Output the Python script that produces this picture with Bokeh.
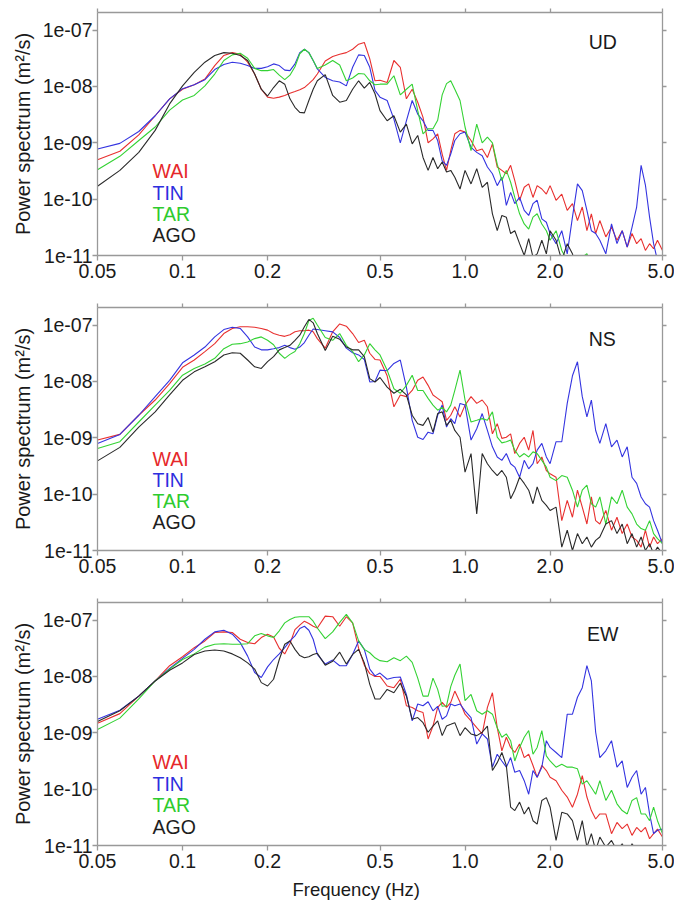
import numpy as np
from bokeh.plotting import figure
from bokeh.models import LogAxis, FixedTicker, CustomJSTickFormatter, Range1d, Label, Title
from bokeh.layouts import column
from bokeh.embed import file_html
from bokeh.resources import INLINE

# Frequency grid (Hz) shared by all spectra
FREQ = [
    0.05, 0.06, 0.07, 0.08, 0.09, 0.10, 0.11, 0.12, 0.13, 0.14,
    0.15, 0.16, 0.17, 0.18, 0.19, 0.20, 0.21, 0.22, 0.23, 0.24,
    0.25, 0.26, 0.27, 0.28, 0.29, 0.30, 0.32, 0.34, 0.36, 0.38,
    0.40, 0.42, 0.44, 0.46, 0.48, 0.50, 0.53, 0.56, 0.59, 0.62,
    0.65, 0.68, 0.71, 0.74, 0.77, 0.80, 0.83, 0.86, 0.89, 0.92,
    0.96, 1.00, 1.05, 1.10, 1.15, 1.20, 1.25, 1.30, 1.35, 1.40,
    1.45, 1.50, 1.56, 1.62, 1.68, 1.74, 1.80, 1.87, 1.94, 2.00,
    2.10, 2.20, 2.30, 2.40, 2.50, 2.60, 2.70, 2.80, 2.90, 3.00,
    3.15, 3.30, 3.45, 3.60, 3.75, 3.90, 4.05, 4.20, 4.35, 4.50,
    4.65, 4.80, 5.00]

# log10 of power spectrum (m^2/s)
UD_WAI = [
    -9.30, -9.15, -8.86, -8.52, -8.22, -8.05, -7.97, -7.87, -7.63, -7.45,
    -7.40, -7.43, -7.57, -7.78, -8.05, -8.19, -8.21, -8.19, -8.16, -8.12,
    -8.09, -8.06, -8.02, -7.95, -7.88, -7.78, -7.55, -7.47, -7.43, -7.40,
    -7.34, -7.25, -7.22, -7.51, -7.90, -7.89, -7.93, -7.54, -7.66, -8.22,
    -8.05, -8.28, -8.55, -9.00, -8.93, -8.84, -9.20, -9.49, -9.14, -8.84,
    -8.78, -8.81, -8.96, -9.14, -9.11, -9.26, -9.02, -9.43, -9.49, -9.55,
    -9.40, -9.67, -10.02, -9.79, -9.73, -9.97, -9.76, -9.82, -9.91, -9.76,
    -10.02, -9.91, -10.20, -10.08, -10.38, -10.14, -10.56, -10.26, -10.61, -10.38,
    -10.67, -10.50, -10.73, -10.56, -10.85, -10.61, -10.79, -10.70, -10.91, -10.79,
    -10.88, -10.73, -10.91]
UD_TIN = [
    -9.11, -9.01, -8.80, -8.52, -8.22, -8.04, -7.97, -7.88, -7.70, -7.61,
    -7.57, -7.59, -7.63, -7.68, -7.68, -7.65, -7.60, -7.63, -7.71, -7.72,
    -7.60, -7.40, -7.34, -7.40, -7.54, -7.69, -7.84, -7.90, -7.92, -7.99,
    -7.66, -7.44, -7.45, -7.66, -8.07, -8.19, -8.25, -8.58, -9.00, -8.61,
    -8.25, -8.49, -8.61, -8.78, -8.78, -8.96, -9.32, -9.40, -9.20, -8.96,
    -8.84, -8.81, -9.08, -9.17, -9.23, -9.43, -9.55, -9.76, -9.61, -10.11,
    -9.88, -10.08, -9.97, -10.20, -10.29, -10.08, -10.02, -10.35, -10.41, -10.61,
    -10.79, -10.56, -10.97, -10.32, -9.73, -9.85, -10.20, -10.56, -10.61, -10.73,
    -10.97, -10.44, -10.79, -10.56, -10.85, -10.50, -10.14, -9.40, -9.75, -10.32,
    -10.79, -11.09, -11.15]
UD_TAR = [
    -9.48, -9.24, -8.96, -8.72, -8.42, -8.24, -8.16, -7.99, -7.78, -7.54,
    -7.44, -7.41, -7.50, -7.68, -7.72, -7.72, -7.70, -7.80, -7.88, -7.80,
    -7.65, -7.42, -7.34, -7.40, -7.54, -7.68, -7.62, -7.54, -7.62, -7.90,
    -7.85, -7.77, -7.78, -7.90, -7.97, -7.96, -7.96, -7.81, -8.15, -8.05,
    -7.96, -8.43, -8.84, -8.75, -8.75, -8.60, -8.15, -7.95, -7.90, -8.05,
    -8.25, -8.72, -9.14, -8.67, -9.00, -8.90, -9.00, -9.38, -9.67, -9.49,
    -9.70, -9.97, -10.26, -10.44, -10.53, -10.32, -10.26, -10.44, -10.56, -10.73,
    -10.56, -10.91, -11.09, -11.20, -11.15, -11.03, -10.97, -11.15, -11.27, -11.15,
    -11.20, -11.03, -11.15, -11.20, -11.09, -11.20, -11.15, -11.27, -11.15, -11.20,
    -11.09, -11.20, -11.15]
UD_AGO = [
    -9.77, -9.49, -9.17, -8.78, -8.31, -7.99, -7.75, -7.57, -7.45, -7.40,
    -7.41, -7.45, -7.54, -7.78, -8.05, -8.17, -8.02, -7.90, -7.96, -8.22,
    -8.37, -8.46, -8.47, -8.25, -8.05, -7.90, -7.79, -8.16, -8.28, -8.25,
    -8.05, -7.90, -8.03, -7.93, -8.13, -8.43, -8.61, -8.52, -8.81, -8.67,
    -9.02, -8.87, -9.26, -9.49, -9.26, -9.46, -9.34, -9.52, -9.49, -9.61,
    -9.82, -9.49, -9.73, -9.46, -9.79, -9.70, -10.26, -10.56, -10.29, -10.32,
    -10.61, -10.56, -10.79, -11.00, -10.70, -11.03, -10.97, -10.73, -10.97, -10.56,
    -10.73, -11.09, -10.79, -10.97, -11.27, -11.15, -11.20, -11.09, -11.27, -11.20,
    -11.30, -11.20, -11.30, -11.20, -11.30, -11.20, -11.30, -11.20, -11.30, -11.20,
    -11.30, -11.20, -11.30]

NS_WAI = [
    -9.04, -8.94, -8.60, -8.33, -8.04, -7.75, -7.62, -7.47, -7.33, -7.15,
    -7.06, -7.03, -7.03, -7.04, -7.06, -7.09, -7.15, -7.18, -7.20, -7.17,
    -7.12, -7.10, -7.10, -7.09, -7.12, -7.24, -7.41, -7.12, -6.98, -7.02,
    -7.15, -7.31, -7.27, -7.50, -7.61, -7.62, -7.90, -8.45, -8.24, -8.27,
    -8.16, -7.98, -7.92, -8.07, -8.24, -8.30, -8.36, -8.69, -8.60, -8.45,
    -8.63, -8.42, -8.27, -8.39, -8.33, -8.45, -8.93, -8.75, -9.01, -8.99,
    -8.93, -9.28, -9.10, -8.99, -9.22, -8.87, -9.46, -9.34, -9.58, -9.64,
    -9.70, -10.47, -10.11, -10.41, -9.93, -10.23, -10.53, -10.05, -10.47, -10.53,
    -10.29, -10.64, -10.41, -10.70, -10.53, -10.76, -10.82, -10.94, -10.64, -10.94,
    -10.76, -10.88, -10.79]
NS_TIN = [
    -9.10, -8.94, -8.60, -8.27, -7.98, -7.67, -7.53, -7.39, -7.21, -7.08,
    -7.04, -7.06, -7.21, -7.39, -7.44, -7.44, -7.42, -7.40, -7.36, -7.40,
    -7.43, -7.39, -7.31, -7.18, -7.07, -7.08, -7.10, -7.12, -7.22, -7.41,
    -7.49, -7.53, -7.61, -8.01, -8.00, -7.80, -7.81, -7.68, -7.62, -8.10,
    -8.69, -8.99, -9.03, -8.90, -8.93, -8.60, -8.42, -8.81, -8.66, -8.75,
    -8.39, -8.42, -9.04, -8.84, -8.57, -8.87, -9.16, -9.34, -9.40, -9.28,
    -9.46, -9.52, -9.70, -9.40, -9.55, -9.46, -9.22, -9.10, -9.34, -9.46,
    -9.07, -9.07, -8.39, -7.90, -7.65, -8.27, -8.63, -8.33, -8.87, -9.10,
    -8.75, -9.16, -9.04, -9.34, -9.16, -9.70, -9.81, -10.05, -10.17, -10.23,
    -10.47, -10.64, -10.88]
NS_TAR = [
    -9.19, -9.07, -8.72, -8.42, -8.16, -7.89, -7.77, -7.69, -7.59, -7.42,
    -7.34, -7.33, -7.30, -7.24, -7.21, -7.27, -7.35, -7.50, -7.59, -7.52,
    -7.47, -7.33, -7.15, -6.92, -6.88, -7.00, -7.22, -7.27, -7.15, -7.36,
    -7.47, -7.65, -7.53, -7.33, -7.44, -7.53, -7.80, -8.13, -8.21, -8.07,
    -7.89, -8.16, -8.16, -8.30, -8.42, -8.51, -8.46, -8.54, -8.42, -8.16,
    -7.80, -8.33, -8.72, -8.69, -8.66, -8.69, -8.54, -8.99, -9.09, -9.07,
    -9.04, -9.22, -9.34, -9.28, -9.34, -9.25, -9.28, -9.40, -9.52, -9.70,
    -9.76, -9.67, -9.70, -9.93, -10.23, -9.93, -9.84, -10.17, -10.23, -10.05,
    -10.53, -10.05, -10.17, -9.93, -10.23, -10.35, -10.53, -10.61, -10.64, -10.47,
    -10.70, -10.79, -10.88]
NS_AGO = [
    -9.41, -9.17, -8.81, -8.54, -8.24, -7.98, -7.83, -7.74, -7.65, -7.53,
    -7.49, -7.50, -7.62, -7.74, -7.77, -7.65, -7.56, -7.44, -7.40, -7.36,
    -7.27, -7.18, -7.03, -6.90, -6.96, -7.15, -7.45, -7.20, -7.25, -7.39,
    -7.44, -7.44, -7.56, -7.95, -8.01, -7.93, -8.10, -8.21, -8.14, -8.24,
    -8.60, -8.75, -8.78, -8.64, -8.90, -8.57, -8.54, -8.78, -8.69, -8.87,
    -8.99, -9.61, -9.28, -10.35, -9.28, -9.46, -9.58, -9.67, -9.58, -9.70,
    -10.08, -9.93, -9.70, -9.81, -9.93, -10.17, -9.87, -10.11, -10.20, -10.29,
    -10.23, -10.94, -10.64, -11.00, -10.70, -10.88, -10.76, -10.94, -10.82, -10.76,
    -10.53, -10.47, -10.70, -10.53, -10.88, -10.70, -10.94, -10.76, -11.00, -10.88,
    -11.06, -10.94, -11.06]

EW_WAI = [
    -8.83, -8.66, -8.35, -8.08, -7.81, -7.65, -7.49, -7.37, -7.22, -7.21,
    -7.22, -7.34, -7.40, -7.42, -7.31, -7.25, -7.30, -7.50, -7.60, -7.42,
    -7.17, -7.09, -7.02, -7.06, -7.11, -7.14, -6.93, -6.94, -7.11, -6.94,
    -7.05, -7.50, -7.80, -7.95, -8.00, -8.00, -8.17, -8.20, -8.05, -8.52,
    -8.55, -8.61, -8.64, -9.11, -8.88, -8.55, -8.46, -8.55, -8.46, -8.26,
    -8.46, -8.67, -8.79, -8.91, -9.02, -8.55, -8.29, -8.91, -9.32, -9.08,
    -9.26, -9.35, -9.20, -9.44, -9.38, -9.58, -9.79, -9.58, -9.67, -9.79,
    -9.85, -10.02, -10.14, -10.32, -10.09, -9.76, -10.14, -10.38, -10.53, -10.44,
    -10.44, -10.79, -10.59, -10.70, -10.62, -10.82, -10.68, -10.76, -10.68, -10.88,
    -10.79, -10.71, -10.85]
EW_TIN = [
    -8.76, -8.60, -8.35, -8.08, -7.86, -7.68, -7.52, -7.34, -7.21, -7.18,
    -7.25, -7.40, -7.64, -7.93, -8.02, -7.83, -7.70, -7.60, -7.49, -7.37,
    -7.28, -7.15, -7.11, -7.18, -7.34, -7.61, -7.78, -7.71, -7.81, -7.81,
    -7.61, -7.37, -7.52, -7.87, -7.99, -7.94, -8.05, -8.02, -8.01, -8.32,
    -8.79, -8.49, -8.52, -8.45, -8.61, -8.53, -8.76, -8.70, -8.49, -8.52,
    -8.49, -8.61, -8.73, -9.20, -9.02, -9.11, -9.61, -9.38, -9.50, -9.61,
    -9.44, -9.70, -9.67, -9.85, -10.09, -9.67, -9.79, -9.61, -9.14, -9.26,
    -9.35, -9.44, -8.67, -8.67, -8.37, -8.20, -7.81, -8.08, -8.99, -9.44,
    -9.32, -9.14, -9.61, -9.50, -9.97, -9.79, -9.67, -10.09, -9.97, -10.44,
    -10.79, -10.73, -10.71]
EW_TAR = [
    -8.94, -8.74, -8.40, -8.08, -7.87, -7.70, -7.60, -7.48, -7.43, -7.42,
    -7.43, -7.43, -7.42, -7.28, -7.24, -7.28, -7.31, -7.19, -7.05, -6.99,
    -6.95, -6.94, -6.94, -6.94, -7.02, -7.14, -7.33, -7.21, -7.04, -6.90,
    -7.05, -7.37, -7.52, -7.58, -7.67, -7.72, -7.74, -7.67, -7.72, -7.64,
    -7.75, -8.03, -8.35, -8.35, -8.03, -8.23, -8.53, -8.52, -8.18, -7.98,
    -7.78, -8.43, -8.32, -8.61, -8.67, -8.61, -8.67, -8.91, -9.08, -9.02,
    -9.14, -9.50, -9.26, -9.08, -8.96, -9.38, -9.26, -8.96, -9.41, -9.50,
    -9.61, -9.56, -9.61, -9.61, -9.64, -9.91, -9.85, -9.97, -10.09, -9.85,
    -10.20, -10.02, -10.26, -10.38, -10.44, -10.20, -10.15, -10.44, -10.44, -10.56,
    -10.32, -10.56, -10.79]
EW_AGO = [
    -8.80, -8.61, -8.35, -8.08, -7.89, -7.76, -7.61, -7.55, -7.53, -7.55,
    -7.60, -7.67, -7.76, -7.87, -8.11, -8.17, -8.05, -7.70, -7.43, -7.37,
    -7.52, -7.63, -7.67, -7.65, -7.61, -7.59, -7.80, -7.73, -7.57, -7.78,
    -7.61, -7.52, -7.76, -8.14, -8.40, -8.40, -8.23, -8.29, -8.12, -8.35,
    -8.76, -8.73, -8.82, -8.99, -8.88, -8.79, -9.05, -8.88, -8.85, -8.82,
    -9.05, -8.91, -9.02, -9.05, -8.99, -8.88, -9.67, -9.53, -9.35, -9.58,
    -10.32, -10.38, -10.23, -10.44, -10.32, -10.56, -10.62, -10.20, -10.15, -10.32,
    -10.91, -10.41, -10.44, -10.56, -10.91, -10.56, -11.03, -10.79, -11.09, -10.85,
    -11.03, -10.91, -11.09, -10.97, -11.15, -10.97, -11.09, -11.03, -11.15, -11.03,
    -11.15, -11.09, -11.15]

STATIONS = ["WAI", "TIN", "TAR", "AGO"]
LINE_COLORS = {"WAI": "#e8302f", "TIN": "#3434e0", "TAR": "#34d234", "AGO": "#2a2a2a"}
TEXT_COLORS = {"WAI": "#e6282a", "TIN": "#2e2ede", "TAR": "#2ecb2e", "AGO": "#1e1e1e"}
COMPONENTS = ["UD", "NS", "EW"]
SERIES = {
    "UD": [UD_WAI, UD_TIN, UD_TAR, UD_AGO],
    "NS": [NS_WAI, NS_TIN, NS_TAR, NS_AGO],
    "EW": [EW_WAI, EW_TIN, EW_TAR, EW_AGO],
}
X_TICKS = [0.05, 0.1, 0.2, 0.5, 1.0, 2.0, 5.0]
Y_TICKS = [1e-11, 1e-10, 1e-9, 1e-8, 1e-7]

FONT = "Liberation Sans"
GRAY = "#999999"
TXT = "#1a1a1a"

# layout constants (per panel)
PANEL_H = {"UD": 302, "NS": 295, "EW": 313}
BORDER_TOP = {"UD": 12, "NS": 5, "EW": 5}
BORDER_BOTTOM = {"UD": 47, "NS": 47, "EW": 65}
LEGEND_LOG_Y = {"UD": [-9.50, -9.89, -10.26, -10.645],
                "NS": [-9.37, -9.745, -10.125, -10.50],
                "EW": [-9.525, -9.905, -10.29, -10.665]}
LEGEND_X = 0.0783
COMP_POS = {"UD": (2.74, -7.22), "NS": (2.74, -7.255), "EW": (2.70, -7.255)}

Y_FMT = CustomJSTickFormatter(code="""
const e = Math.round(Math.log10(tick));
return '1e-' + String(-e).padStart(2, '0');
""")
X_FMT = CustomJSTickFormatter(code="return tick >= 1 ? tick.toFixed(1) : String(tick);")


def style(ax, font_size="19.5px", standoff=0):
    ax.axis_line_color = GRAY
    ax.axis_line_width = 1.3
    ax.major_tick_line_color = GRAY
    ax.major_tick_line_width = 1.3
    ax.minor_tick_line_color = None
    ax.major_tick_out = 5
    ax.major_tick_in = 0
    ax.major_label_text_font = FONT
    ax.major_label_text_font_size = font_size
    ax.major_label_text_color = TXT
    ax.major_label_standoff = standoff


def blank_axis(ticks):
    ax = LogAxis(ticker=FixedTicker(ticks=ticks),
                 formatter=CustomJSTickFormatter(code="return '';"))
    style(ax, font_size="0px", standoff=0)
    ax.major_tick_out = 4
    return ax


def make_panel(comp):
    p = figure(width=674, height=PANEL_H[comp], x_axis_type="log", y_axis_type="log",
               x_range=Range1d(0.05, 5.0), y_range=Range1d(1e-11, 2.05e-7),
               output_backend="svg", toolbar_location=None,
               min_border_left=97, min_border_right=12,
               min_border_top=BORDER_TOP[comp], min_border_bottom=BORDER_BOTTOM[comp])
    p.grid.visible = False
    p.outline_line_color = None
    p.background_fill_color = "white"
    p.border_fill_color = "white"

    f = np.array(FREQ)
    for st, logs in zip(STATIONS, SERIES[comp]):
        p.line(f, 10.0 ** np.array(logs), line_color=LINE_COLORS[st], line_width=1.1)

    p.xaxis.ticker = FixedTicker(ticks=X_TICKS)
    p.xaxis.formatter = X_FMT
    style(p.xaxis[0], standoff=3)
    p.yaxis.ticker = FixedTicker(ticks=Y_TICKS)
    p.yaxis.formatter = Y_FMT
    style(p.yaxis[0], standoff=0)
    p.yaxis.axis_label = "Power spectrum (m²/s)"
    p.yaxis.axis_label_text_font = FONT
    p.yaxis.axis_label_text_font_size = "20px"
    p.yaxis.axis_label_text_font_style = "normal"
    p.yaxis.axis_label_text_color = TXT
    p.yaxis.axis_label_standoff = 6

    p.add_layout(blank_axis(X_TICKS), "above")
    p.add_layout(blank_axis(Y_TICKS), "right")

    for st, ly in zip(STATIONS, LEGEND_LOG_Y[comp]):
        p.add_layout(Label(x=LEGEND_X, y=10.0 ** ly, text=st, text_color=TEXT_COLORS[st],
                           text_font=FONT, text_font_size="19.5px",
                           text_baseline="middle", text_align="left"))
    cx, cy = COMP_POS[comp]
    p.add_layout(Label(x=cx, y=10.0 ** cy, text=comp, text_color=TXT,
                       text_font=FONT, text_font_size="19.5px",
                       text_baseline="middle", text_align="left"))
    return p


panels = [make_panel(c) for c in COMPONENTS]
xt = Title(text="Frequency (Hz)", align="left", offset=195, text_font=FONT,
           text_font_size="18.5px", text_font_style="normal", text_color=TXT, standoff=12)
panels[-1].add_layout(xt, "below")

layout = column(*panels, spacing=0)
open("out.html", "w").write(file_html(layout, INLINE))
